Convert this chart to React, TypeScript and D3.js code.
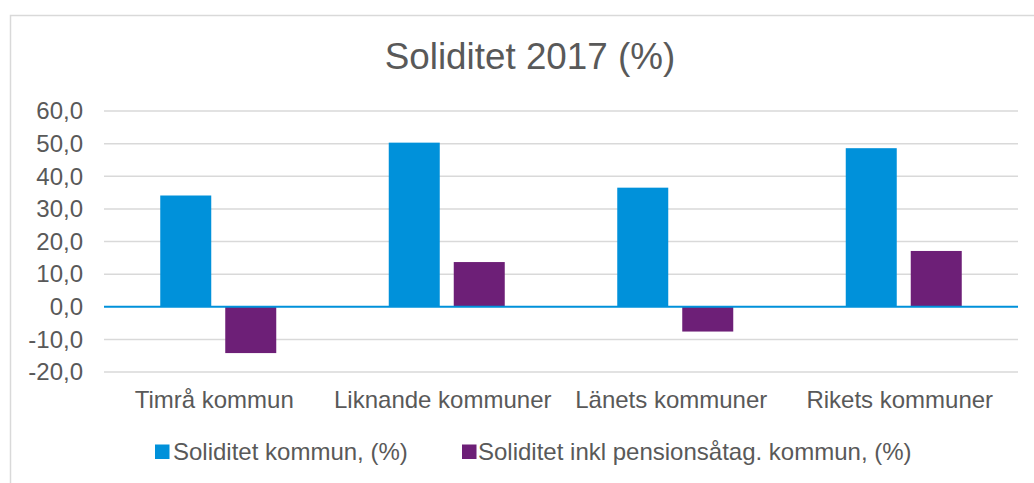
import React from "react";
import * as d3 from "d3";

const categories = ["Timrå kommun", "Liknande kommuner", "Länets kommuner", "Rikets kommuner"];
const seriesNames = ["Soliditet kommun, (%)", "Soliditet inkl pensionsåtag. kommun, (%)"];
const soliditet = [34.1, 50.3, 36.5, 48.6];
const soliditetInkl = [-14.2, 13.7, -7.6, 17.1];
const yTicks = [-20, -10, 0, 10, 20, 30, 40, 50, 60];
const colors = ["#0091DA", "#6D1F77"];
const title = "Soliditet 2017 (%)";

export default function App() {
  const W = 1034, H = 483;
  const x0 = d3.scaleBand<string>().domain(categories).range([104, 1018]).paddingInner(0).paddingOuter(0);
  const y = d3.scaleLinear().domain([-20, 60]).range([372, 111]);
  const barW = 51;
  const gap = 14;
  const series = [soliditet, soliditetInkl];
  const font = "'Liberation Sans', Arial, sans-serif";
  const fmt = (v: number) => v.toFixed(1).replace(".", ",");
  const legendSq = [155, 462];
  const legendTx = [173, 478];
  return (
    <svg width={W} height={H} style={{ position: "absolute", left: 0, top: 0, fontFamily: font }}>
      <rect x={0} y={0} width={W} height={H} fill="#fff" />
      <rect x={10.5} y={15.5} width={1040} height={480} fill="#fff" stroke="#d9d9d9" strokeWidth={1.5} />
      <text x={530} y={69} textAnchor="middle" fontSize={36.8} fill="#595959">{title}</text>
      {yTicks.map((t) => (
        <g key={t}>
          {t !== 0 && (
            <line x1={104} x2={1018} y1={y(t)} y2={y(t)} stroke="#d9d9d9" strokeWidth={1.5} />
          )}
          <text x={83} y={y(t) + 8.3} textAnchor="end" fontSize={24} fill="#595959">{fmt(t)}</text>
        </g>
      ))}
      {categories.map((c, i) => {
        const cx = (x0(c) as number) + x0.bandwidth() / 2;
        return (
          <g key={c}>
            {series.map((s, j) => {
              const v = s[i];
              const bx = cx - gap / 2 - barW + j * (barW + gap);
              const top = Math.min(y(v), y(0));
              const h = Math.abs(y(v) - y(0));
              return <rect key={j} x={bx} y={top} width={barW} height={h} fill={colors[j]} />;
            })}
            <text x={cx - 4} y={407.5} textAnchor="middle" fontSize={24} fill="#595959">{c}</text>
          </g>
        );
      })}
      <line x1={104} x2={1018} y1={y(0)} y2={y(0)} stroke={colors[0]} strokeWidth={2} />
      <g>
        {seriesNames.map((n, j) => (
          <g key={n}>
            <rect x={legendSq[j]} y={444.5} width={14.5} height={14.5} fill={colors[j]} />
            <text x={legendTx[j]} y={460} fontSize={24} fill="#595959">{n}</text>
          </g>
        ))}
      </g>
    </svg>
  );
}
